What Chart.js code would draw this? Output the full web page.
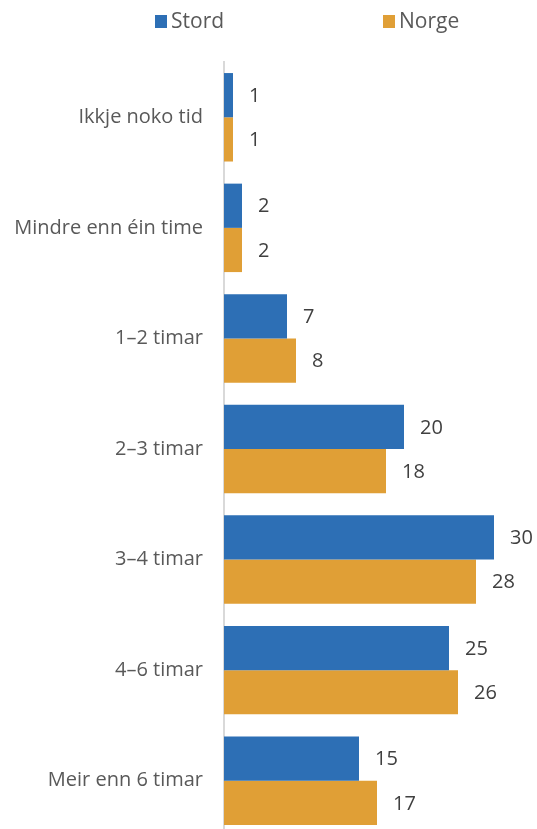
<!DOCTYPE html>
<html>
<head>
<meta charset="utf-8">
<script src="https://cdn.jsdelivr.net/npm/chart.js@4/dist/chart.umd.min.js"></script>
<style>
  html, body { margin: 0; padding: 0; background: #fff; overflow: hidden; }
  canvas { display: block; }
</style>
</head>
<body>
<canvas id="c" width="537" height="837"></canvas>
<script>
  var categories = [
    "Ikkje noko tid",
    "Mindre enn \u00e9in time",
    "1\u20132 timar",
    "2\u20133 timar",
    "3\u20134 timar",
    "4\u20136 timar",
    "Meir enn 6 timar"
  ];
  var stord = [1, 2, 7, 20, 30, 25, 15];
  var norge = [1, 2, 8, 18, 28, 26, 17];

  var BLUE = "#2d6fb5";
  var ORANGE = "#e09f36";
  var FONT = "'Open Sans', 'Liberation Sans', sans-serif";

  // value text just past the end of each bar
  var valueLabels = {
    id: "valueLabels",
    afterDatasetsDraw: function (chart) {
      var c = chart.ctx;
      c.save();
      c.font = "20px " + FONT;
      c.fillStyle = "#404040";
      c.textAlign = "left";
      c.textBaseline = "middle";
      chart.data.datasets.forEach(function (ds, i) {
        chart.getDatasetMeta(i).data.forEach(function (bar, j) {
          c.fillText(String(ds.data[j]), bar.x + 16, bar.y + 1);
        });
      });
      c.restore();
    }
  };

  // two-item legend laid out over the plot
  var topLegend = {
    id: "topLegend",
    afterDraw: function (chart) {
      var c = chart.ctx;
      var xs = [155, 383];
      c.save();
      c.font = "21px " + FONT;
      c.textBaseline = "middle";
      c.textAlign = "left";
      chart.data.datasets.forEach(function (ds, i) {
        c.fillStyle = ds.backgroundColor;
        c.fillRect(xs[i], 15, 12, 13);
        c.fillStyle = "#595959";
        c.fillText(ds.label, xs[i] + 16, 22);
      });
      c.restore();
    }
  };

  new Chart(document.getElementById("c"), {
    type: "bar",
    plugins: [valueLabels, topLegend],
    data: {
      labels: categories,
      datasets: [
        { label: "Stord", data: stord, backgroundColor: BLUE },
        { label: "Norge", data: norge, backgroundColor: ORANGE }
      ]
    },
    options: {
      indexAxis: "y",
      responsive: false,
      animation: false,
      categoryPercentage: 0.8,
      barPercentage: 1.0,
      layout: { padding: { top: 62, right: 7, bottom: 1, left: 0 } },
      plugins: {
        legend: { display: false },
        tooltip: { enabled: false }
      },
      scales: {
        x: { display: false, min: 0, max: 34 },
        y: {
          // fixed axis width; drop the label overflow padding at the ends
          afterFit: function (axis) {
            axis.width = 224;
            axis.paddingTop = 0;
            axis.paddingBottom = 0;
          },
          grid: { display: false },
          border: { display: true, color: "#d9d9d9", width: 2 },
          ticks: {
            color: "#595959",
            padding: 13,
            font: { family: FONT, size: 20 }
          }
        }
      }
    }
  });
</script>
</body>
</html>
